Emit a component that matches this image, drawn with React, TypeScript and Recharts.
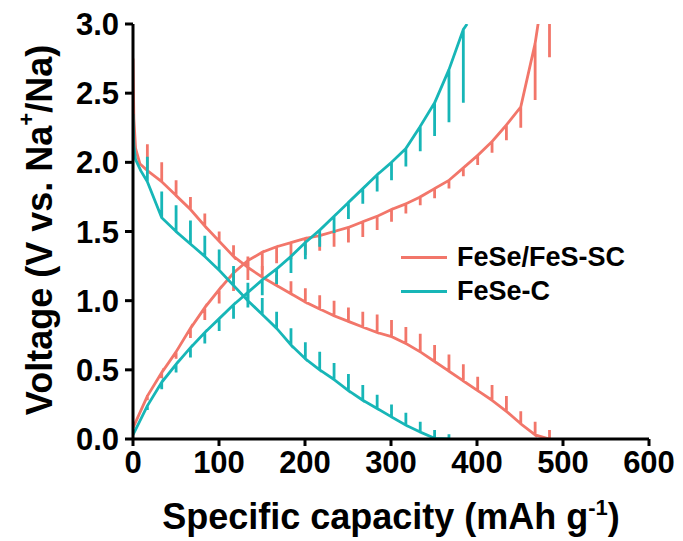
import { Label, Line, LineChart, XAxis, YAxis } from "recharts";

// GITT curves, FeSe/FeS-SC (red) vs FeSe-C (cyan)
const pulseCapacity = [
  16.7, 33.4, 50.1, 66.8, 83.5, 100.2, 116.9, 133.6, 150.3, 167.0, 183.7, 200.4,
  217.1, 233.8, 250.5, 267.2, 283.9, 300.6, 317.3, 334.0, 350.7, 367.4, 384.1,
  400.8, 417.5, 434.2, 450.9, 467.6, 484.3,
];

// FeSe/FeS-SC discharge: voltage at end of pulse / after relaxation
const redDischargeHead = [[0, 2.75], [1, 2.32], [3, 2.1], [8, 1.99]];
const redDischargeLoad = [
  1.94, 1.86, 1.76, 1.66, 1.54, 1.43, 1.32, 1.24, 1.17, 1.11, 1.05, 0.99, 0.94,
  0.89, 0.85, 0.81, 0.77, 0.74, 0.69, 0.63, 0.56, 0.49, 0.42, 0.35, 0.28, 0.2,
  0.11, 0.03, 0.0,
];
const redDischargeRelax = [
  2.13, 2.0, 1.87, 1.75, 1.63, 1.5, 1.4, 1.32, 1.25, 1.19, 1.14, 1.09, 1.04, 1.0,
  0.95, 0.92, 0.9, 0.86, 0.81, 0.76, 0.68, 0.61, 0.54, 0.45, 0.39, 0.31, 0.2,
  0.125, 0.065,
];

// FeSe/FeS-SC charge
const redChargeHead = [[0, 0.08]];
const redChargeLoad = [
  0.31, 0.48, 0.63, 0.8, 0.95, 1.08, 1.2, 1.29, 1.35, 1.39, 1.42, 1.45, 1.47, 1.5,
  1.53, 1.57, 1.61, 1.66, 1.7, 1.75, 1.81, 1.87, 1.96, 2.05, 2.15, 2.27, 2.4, 2.86,
];
const redChargeRelax = [
  0.28, 0.44, 0.58, 0.73, 0.86, 0.98, 1.07, 1.15, 1.22, 1.27, 1.3, 1.33, 1.36,
  1.39, 1.42, 1.46, 1.51, 1.57, 1.63, 1.69, 1.74, 1.81, 1.9, 1.98, 2.07, 2.16,
  2.25, 2.45,
];
const redChargeTail = [[471, 3.0], [484.3, 3.15], [484.3, 2.76]];

// FeSe-C discharge
const cyanDischargeHead = [[0, 2.35], [1, 2.12], [3, 2.02], [9, 1.94]];
const cyanDischargeLoad = [
  1.86, 1.6, 1.5, 1.41, 1.32, 1.22, 1.11, 1.0, 0.9, 0.8, 0.68, 0.58, 0.5, 0.43,
  0.35, 0.28, 0.22, 0.16, 0.1, 0.05, 0.005, 0.0,
];
const cyanDischargeRelax = [
  2.04, 1.79, 1.69, 1.58, 1.47, 1.37, 1.25, 1.13, 1.02, 0.92, 0.8, 0.7, 0.63,
  0.55, 0.47, 0.39, 0.32, 0.25, 0.19, 0.125, 0.065, 0.035,
];

// FeSe-C charge
const cyanChargeHead = [[0, 0.03]];
const cyanChargeLoad = [
  0.24, 0.41, 0.54, 0.66, 0.77, 0.87, 0.97, 1.06, 1.15, 1.23, 1.32, 1.42, 1.51,
  1.61, 1.71, 1.81, 1.91, 2.0, 2.1, 2.26, 2.43, 2.67, 2.96,
];
const cyanChargeRelax = [
  0.21, 0.36, 0.48, 0.59, 0.69, 0.78, 0.87, 0.95, 1.04, 1.12, 1.2, 1.3, 1.39,
  1.49, 1.59, 1.7, 1.79, 1.87, 1.97, 2.08, 2.19, 2.29, 2.43,
];
const cyanChargeTail = [[388.5, 3.0]];

const xTicks = [0, 100, 200, 300, 400, 500, 600];
const yTicks = [0, 0.5, 1.0, 1.5, 2.0, 2.5, 3.0];

const RED = "#F2766A";
const CYAN = "#17B6B7";
const FONT = "'Liberation Sans', Arial, sans-serif";

// each pulse: load value, jump to relaxed value, back to load value
function buildCurve(head: number[][], load: number[], relax: number[], tail: number[][] = []) {
  const pts = head.map(([x, y]) => ({ x, y }));
  load.forEach((v, i) => {
    const c = pulseCapacity[i];
    pts.push({ x: c, y: v }, { x: c, y: relax[i] }, { x: c, y: v });
  });
  tail.forEach(([x, y]) => pts.push({ x, y }));
  return pts;
}

const redDischarge = buildCurve(redDischargeHead, redDischargeLoad, redDischargeRelax);
const redCharge = buildCurve(redChargeHead, redChargeLoad, redChargeRelax, redChargeTail);
const cyanDischarge = buildCurve(cyanDischargeHead, cyanDischargeLoad, cyanDischargeRelax);
const cyanCharge = buildCurve(cyanChargeHead, cyanChargeLoad, cyanChargeRelax, cyanChargeTail);

const axisStroke = { stroke: "#000", strokeWidth: 3 };
const tickStyle = { fill: "#000", fontSize: 31, fontWeight: "bold", fontFamily: FONT };

function YTitle() {
  const cx = 39;
  const cy = 230;
  return (
    <text
      x={cx}
      y={cy}
      transform={`rotate(-90 ${cx} ${cy})`}
      textAnchor="middle"
      dominantBaseline="central"
      fontSize={36}
      fontWeight="bold"
      fontFamily={FONT}
      fill="#000"
    >
      Voltage (V vs. Na
      <tspan dy={-13} fontSize={22}>+</tspan>
      <tspan dy={13}>/Na)</tspan>
    </text>
  );
}

function XTitle() {
  return (
    <text
      x={391}
      y={529}
      textAnchor="middle"
      fontSize={36}
      fontWeight="bold"
      fontFamily={FONT}
      fill="#000"
    >
      Specific capacity (mAh g
      <tspan dy={-14} fontSize={22}>-1</tspan>
      <tspan dy={14}>)</tspan>
    </text>
  );
}

const legendItems = [
  { name: "FeSe/FeS-SC", color: RED },
  { name: "FeSe-C", color: CYAN },
];

export default function App() {
  return (
    <div style={{ position: "absolute", left: 0, top: 0, width: 683, height: 541, background: "#fff" }}>
      <LineChart width={683} height={541} margin={{ top: 24, right: 34, bottom: 0, left: 0 }}>
        <XAxis
          type="number"
          dataKey="x"
          domain={[0, 600]}
          ticks={xTicks}
          height={102}
          axisLine={axisStroke}
          tickLine={axisStroke}
          tickSize={7}
          tickMargin={5}
          tick={tickStyle}
          allowDataOverflow
        >
          <Label content={<XTitle />} />
        </XAxis>
        <XAxis
          xAxisId="top"
          orientation="top"
          type="number"
          domain={[0, 600]}
          height={0}
          tick={false}
          tickLine={false}
          axisLine={axisStroke}
        />
        <YAxis
          type="number"
          dataKey="y"
          domain={[0, 3]}
          ticks={yTicks}
          width={133}
          axisLine={axisStroke}
          tickLine={axisStroke}
          tickSize={8}
          tickMargin={6}
          tick={tickStyle}
          tickFormatter={(v: number) => v.toFixed(1)}
          allowDataOverflow
        >
          <Label content={<YTitle />} />
        </YAxis>
        <YAxis
          yAxisId="right"
          orientation="right"
          type="number"
          domain={[0, 3]}
          width={0}
          tick={false}
          tickLine={false}
          axisLine={axisStroke}
        />
        <Line data={redDischarge} dataKey="y" type="linear" stroke={RED} strokeWidth={2.8} dot={false} isAnimationActive={false} />
        <Line data={redCharge} dataKey="y" type="linear" stroke={RED} strokeWidth={2.8} dot={false} isAnimationActive={false} />
        <Line data={cyanDischarge} dataKey="y" type="linear" stroke={CYAN} strokeWidth={2.8} dot={false} isAnimationActive={false} />
        <Line data={cyanCharge} dataKey="y" type="linear" stroke={CYAN} strokeWidth={2.8} dot={false} isAnimationActive={false} />
      </LineChart>
      <div style={{ position: "absolute", left: 401, top: 240, fontFamily: FONT }}>
        {legendItems.map((item) => (
          <div key={item.name} style={{ display: "flex", alignItems: "center", height: 34 }}>
            <div style={{ width: 46, height: 3, background: item.color, marginRight: 10 }} />
            <span style={{ fontSize: 27, fontWeight: "bold", color: "#000" }}>{item.name}</span>
          </div>
        ))}
      </div>
    </div>
  );
}
